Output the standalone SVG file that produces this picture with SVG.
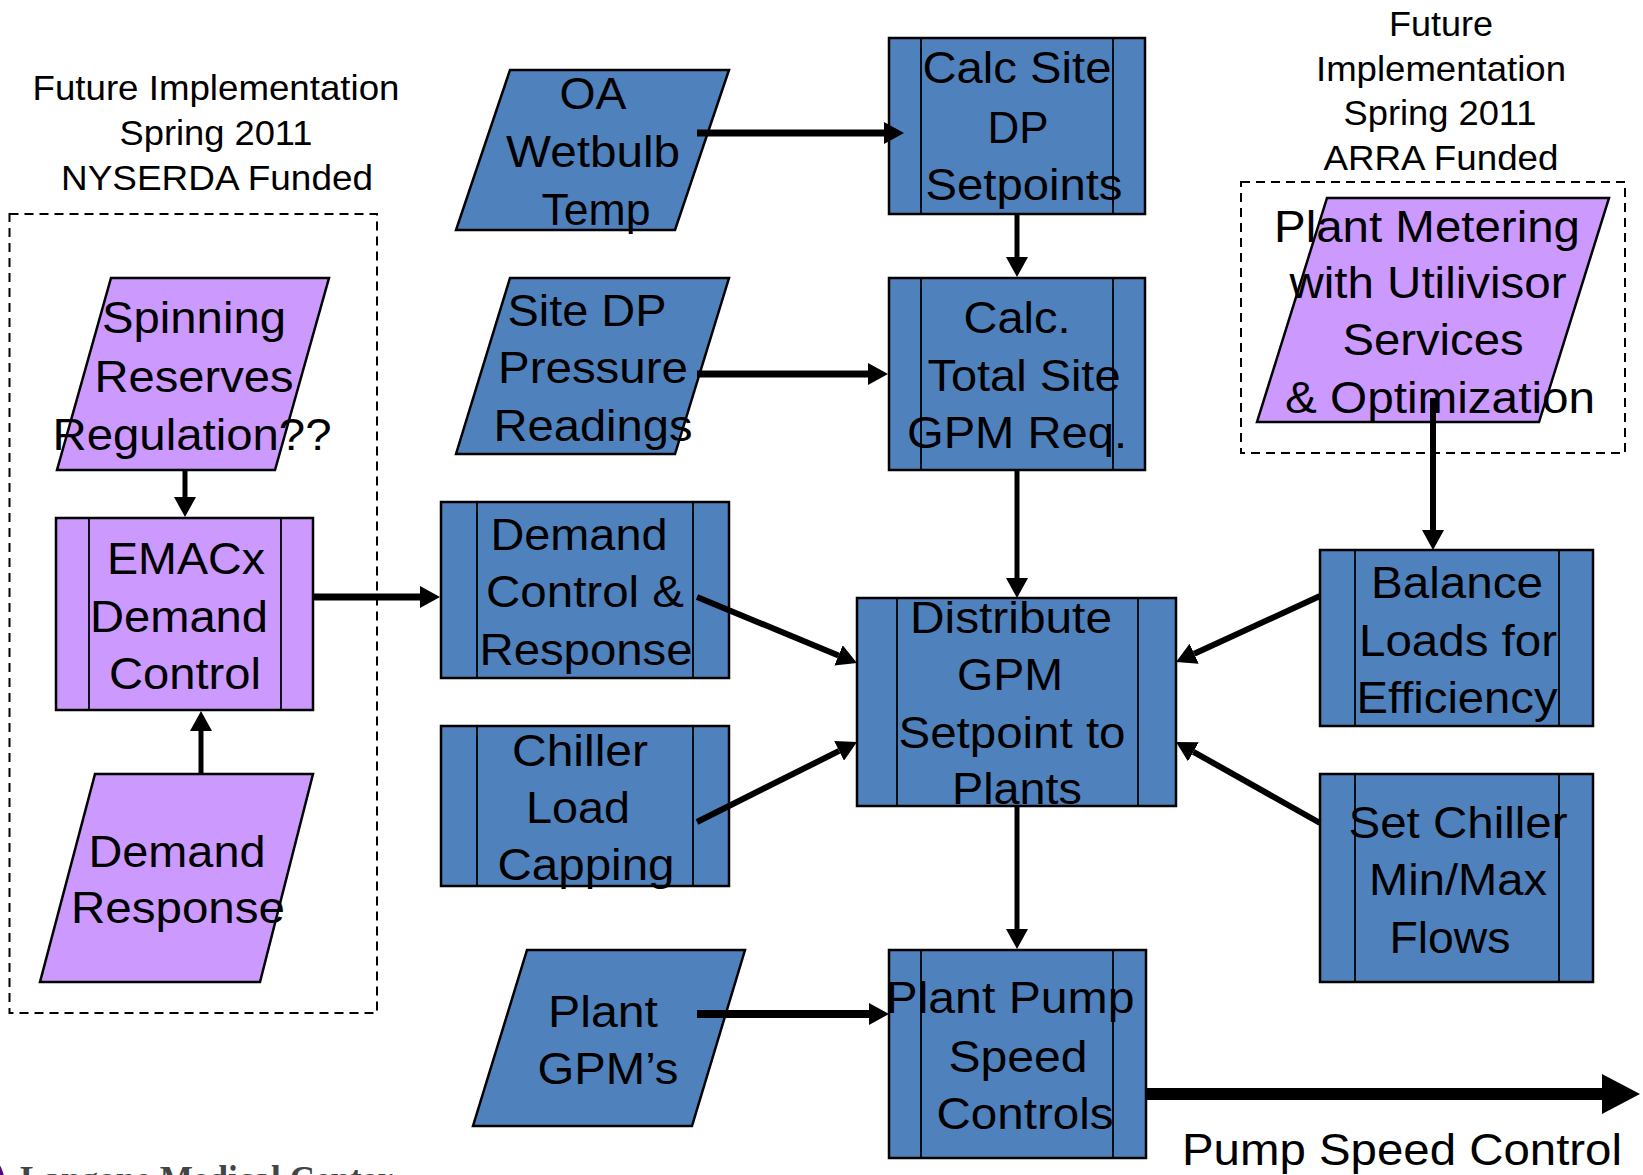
<svg xmlns="http://www.w3.org/2000/svg" width="1643" height="1175" viewBox="0 0 1643 1175">
  <style>
    .blue { fill: #4F81BD; stroke: #000; stroke-width: 2.5; }
    .purple { fill: #CC99FF; stroke: #000; stroke-width: 2.5; }
    .bar { stroke: #000; stroke-width: 1.8; fill: none; }
    .t { font-family: "Liberation Sans", Arial, sans-serif; font-size: 44px; text-anchor: middle; fill: #000; }
    .hdr { font-family: "Liberation Sans", Arial, sans-serif; font-size: 35px; text-anchor: middle; fill: #000; }
    .group { fill: none; stroke: #000; stroke-width: 2; stroke-dasharray: 9 6; }
    .conn { stroke: #000; fill: none; }
    .w5 { stroke-width: 5; }
    .w6 { stroke-width: 6; }
    .w7 { stroke-width: 7; }
  </style>
  <defs>
    <marker id="ah" viewBox="0 0 20 22" refX="0" refY="11" markerWidth="20" markerHeight="22" markerUnits="userSpaceOnUse" orient="auto">
      <path d="M0,0 L20,11 L0,22 Z" fill="#000"/>
    </marker>
    <marker id="ahBig" viewBox="0 0 38 40" refX="0" refY="20" markerWidth="38" markerHeight="40" markerUnits="userSpaceOnUse" orient="auto">
      <path d="M0,0 L38,20 L0,40 Z" fill="#000"/>
    </marker>
  </defs>
  <rect width="1643" height="1175" fill="#fff"/>

  <!-- Group headings and dashed group outlines -->
  <g id="group-nyserda">
    <text class="hdr" x="216" y="100" textLength="367" lengthAdjust="spacingAndGlyphs">Future Implementation</text>
    <text class="hdr" x="216" y="145" textLength="193" lengthAdjust="spacingAndGlyphs">Spring 2011</text>
    <text class="hdr" x="217" y="190" textLength="312" lengthAdjust="spacingAndGlyphs">NYSERDA Funded</text>
    <rect class="group" x="9.5" y="214" width="367.5" height="799"/>
  </g>
  <g id="group-arra">
    <text class="hdr" x="1441" y="36" textLength="104" lengthAdjust="spacingAndGlyphs">Future</text>
    <text class="hdr" x="1441" y="81" textLength="250" lengthAdjust="spacingAndGlyphs">Implementation</text>
    <text class="hdr" x="1440" y="125" textLength="193" lengthAdjust="spacingAndGlyphs">Spring 2011</text>
    <text class="hdr" x="1441" y="170" textLength="235" lengthAdjust="spacingAndGlyphs">ARRA Funded</text>
    <rect class="group" x="1241" y="182" width="384" height="271"/>
  </g>

  <!-- Input parallelograms -->
  <g id="oa-wetbulb">
    <polygon class="blue" points="510,70 729,70 675,230 456,230"/>
    <text class="t" font-size="48" x="593" y="109" textLength="67" lengthAdjust="spacingAndGlyphs">OA</text>
    <text class="t" font-size="48" x="593" y="167" textLength="174" lengthAdjust="spacingAndGlyphs">Wetbulb</text>
    <text class="t" font-size="48" x="596" y="225" textLength="109" lengthAdjust="spacingAndGlyphs">Temp</text>
  </g>
  <g id="site-dp">
    <polygon class="blue" points="510,278 729,278 675,454 456,454"/>
    <text class="t" x="587" y="326" textLength="159" lengthAdjust="spacingAndGlyphs">Site DP</text>
    <text class="t" x="593" y="383" textLength="190" lengthAdjust="spacingAndGlyphs">Pressure</text>
    <text class="t" x="593" y="441" textLength="199" lengthAdjust="spacingAndGlyphs">Readings</text>
  </g>
  <g id="plant-gpms">
    <polygon class="blue" points="527,950 745,950 692,1126 473,1126"/>
    <text class="t" x="603" y="1027" textLength="110" lengthAdjust="spacingAndGlyphs">Plant</text>
    <text class="t" x="608" y="1084" textLength="141" lengthAdjust="spacingAndGlyphs">GPM’s</text>
  </g>
  <g id="spinning-reserves">
    <polygon class="purple" points="111,278 329,278 275,470 57,470"/>
    <text class="t" font-size="46" x="194" y="333" textLength="184" lengthAdjust="spacingAndGlyphs">Spinning</text>
    <text class="t" font-size="46" x="194" y="392" textLength="199" lengthAdjust="spacingAndGlyphs">Reserves</text>
    <text class="t" font-size="46" x="192" y="450" textLength="279" lengthAdjust="spacingAndGlyphs">Regulation??</text>
  </g>
  <g id="demand-response">
    <polygon class="purple" points="95,774 313,774 260,982 40,982"/>
    <text class="t" x="177" y="867" textLength="177" lengthAdjust="spacingAndGlyphs">Demand</text>
    <text class="t" x="178" y="923" textLength="214" lengthAdjust="spacingAndGlyphs">Response</text>
  </g>
  <g id="plant-metering">
    <polygon class="purple" points="1327,198 1609,198 1539,422 1257,422"/>
    <text class="t" font-size="42" x="1427" y="242" textLength="306" lengthAdjust="spacingAndGlyphs">Plant Metering</text>
    <text class="t" font-size="42" x="1428" y="298" textLength="277" lengthAdjust="spacingAndGlyphs">with Utilivisor</text>
    <text class="t" font-size="42" x="1433" y="355" textLength="181" lengthAdjust="spacingAndGlyphs">Services</text>
    <text class="t" font-size="42" x="1440" y="413" textLength="310" lengthAdjust="spacingAndGlyphs">&amp; Optimization</text>
  </g>

  <!-- Process boxes (predefined-process style with side bars) -->
  <g id="emacx">
    <rect class="purple" x="56" y="518" width="257" height="192"/>
    <line class="bar" x1="89" y1="518" x2="89" y2="710"/>
    <line class="bar" x1="281" y1="518" x2="281" y2="710"/>
    <text class="t" x="186" y="574" textLength="158" lengthAdjust="spacingAndGlyphs">EMACx</text>
    <text class="t" x="179" y="632" textLength="178" lengthAdjust="spacingAndGlyphs">Demand</text>
    <text class="t" x="185" y="689" textLength="152" lengthAdjust="spacingAndGlyphs">Control</text>
  </g>
  <g id="demand-control">
    <rect class="blue" x="441" y="502" width="288" height="176"/>
    <line class="bar" x1="477" y1="502" x2="477" y2="678"/>
    <line class="bar" x1="693" y1="502" x2="693" y2="678"/>
    <text class="t" x="579" y="550" textLength="177" lengthAdjust="spacingAndGlyphs">Demand</text>
    <text class="t" x="585" y="607" textLength="198" lengthAdjust="spacingAndGlyphs">Control &amp;</text>
    <text class="t" x="586" y="665" textLength="213" lengthAdjust="spacingAndGlyphs">Response</text>
  </g>
  <g id="chiller-load-capping">
    <rect class="blue" x="441" y="726" width="288" height="160"/>
    <line class="bar" x1="477" y1="726" x2="477" y2="886"/>
    <line class="bar" x1="693" y1="726" x2="693" y2="886"/>
    <text class="t" x="580" y="766" textLength="136" lengthAdjust="spacingAndGlyphs">Chiller</text>
    <text class="t" x="578" y="823" textLength="104" lengthAdjust="spacingAndGlyphs">Load</text>
    <text class="t" x="586" y="880" textLength="177" lengthAdjust="spacingAndGlyphs">Capping</text>
  </g>
  <g id="calc-site-dp">
    <rect class="blue" x="889" y="38" width="256" height="176"/>
    <line class="bar" x1="921" y1="38" x2="921" y2="214"/>
    <line class="bar" x1="1113" y1="38" x2="1113" y2="214"/>
    <text class="t" x="1017" y="83" textLength="189" lengthAdjust="spacingAndGlyphs">Calc Site</text>
    <text class="t" x="1018" y="143" textLength="61" lengthAdjust="spacingAndGlyphs">DP</text>
    <text class="t" x="1024" y="200" textLength="197" lengthAdjust="spacingAndGlyphs">Setpoints</text>
  </g>
  <g id="calc-total-site">
    <rect class="blue" x="889" y="278" width="256" height="192"/>
    <line class="bar" x1="921" y1="278" x2="921" y2="470"/>
    <line class="bar" x1="1113" y1="278" x2="1113" y2="470"/>
    <text class="t" x="1017" y="333" textLength="107" lengthAdjust="spacingAndGlyphs">Calc.</text>
    <text class="t" x="1024" y="391" textLength="193" lengthAdjust="spacingAndGlyphs">Total Site</text>
    <text class="t" x="1017" y="448" textLength="220" lengthAdjust="spacingAndGlyphs">GPM Req.</text>
  </g>
  <g id="distribute-gpm">
    <rect class="blue" x="857" y="598" width="319" height="208"/>
    <line class="bar" x1="897" y1="598" x2="897" y2="806"/>
    <line class="bar" x1="1138" y1="598" x2="1138" y2="806"/>
    <text class="t" x="1011" y="633" textLength="202" lengthAdjust="spacingAndGlyphs">Distribute</text>
    <text class="t" x="1010" y="690" textLength="106" lengthAdjust="spacingAndGlyphs">GPM</text>
    <text class="t" x="1012" y="748" textLength="227" lengthAdjust="spacingAndGlyphs">Setpoint to</text>
    <text class="t" x="1017" y="804" textLength="130" lengthAdjust="spacingAndGlyphs">Plants</text>
  </g>
  <g id="balance-loads">
    <rect class="blue" x="1320" y="550" width="273" height="176"/>
    <line class="bar" x1="1355" y1="550" x2="1355" y2="726"/>
    <line class="bar" x1="1559" y1="550" x2="1559" y2="726"/>
    <text class="t" x="1457" y="598" textLength="172" lengthAdjust="spacingAndGlyphs">Balance</text>
    <text class="t" x="1458" y="656" textLength="198" lengthAdjust="spacingAndGlyphs">Loads for</text>
    <text class="t" x="1457" y="713" textLength="201" lengthAdjust="spacingAndGlyphs">Efficiency</text>
  </g>
  <g id="set-chiller-flows">
    <rect class="blue" x="1320" y="774" width="273" height="208"/>
    <line class="bar" x1="1355" y1="774" x2="1355" y2="982"/>
    <line class="bar" x1="1559" y1="774" x2="1559" y2="982"/>
    <text class="t" x="1458" y="838" textLength="219" lengthAdjust="spacingAndGlyphs">Set Chiller</text>
    <text class="t" x="1458" y="895" textLength="178" lengthAdjust="spacingAndGlyphs">Min/Max</text>
    <text class="t" x="1450" y="953" textLength="121" lengthAdjust="spacingAndGlyphs">Flows</text>
  </g>
  <g id="plant-pump-speed">
    <rect class="blue" x="889" y="950" width="257" height="208"/>
    <line class="bar" x1="921" y1="950" x2="921" y2="1158"/>
    <line class="bar" x1="1113" y1="950" x2="1113" y2="1158"/>
    <text class="t" x="1010" y="1013" textLength="249" lengthAdjust="spacingAndGlyphs">Plant Pump</text>
    <text class="t" x="1018" y="1072" textLength="139" lengthAdjust="spacingAndGlyphs">Speed</text>
    <text class="t" x="1025" y="1129" textLength="177" lengthAdjust="spacingAndGlyphs">Controls</text>
  </g>

  <!-- Connectors, drawn over the shapes they leave from -->
  <g id="connectors">
    <line class="conn w7" x1="697" y1="133" x2="884" y2="133" marker-end="url(#ah)"/>
    <line class="conn w7" x1="697" y1="374" x2="868" y2="374" marker-end="url(#ah)"/>
    <line class="conn w5" x1="1017" y1="214" x2="1017" y2="257" marker-end="url(#ah)"/>
    <line class="conn w5" x1="1017" y1="470" x2="1017" y2="578" marker-end="url(#ah)"/>
    <line class="conn w5" x1="185" y1="470" x2="185" y2="497" marker-end="url(#ah)"/>
    <line class="conn w7" x1="313" y1="597" x2="420" y2="597" marker-end="url(#ah)"/>
    <line class="conn w5" x1="201" y1="774" x2="201" y2="731" marker-end="url(#ah)"/>
    <line class="conn w6" x1="697" y1="597" x2="838.5" y2="655.4" marker-end="url(#ah)"/>
    <line class="conn w6" x1="697" y1="822" x2="839.1" y2="750.9" marker-end="url(#ah)"/>
    <line class="conn w6" x1="1320" y1="596" x2="1194.2" y2="653.7" marker-end="url(#ah)"/>
    <line class="conn w6" x1="1320" y1="823" x2="1193.4" y2="751.8" marker-end="url(#ah)"/>
    <line class="conn w6" x1="1433" y1="398" x2="1433" y2="530" marker-end="url(#ah)"/>
    <line class="conn w5" x1="1017" y1="806" x2="1017" y2="929" marker-end="url(#ah)"/>
    <line class="conn" stroke-width="8" x1="697" y1="1014" x2="869" y2="1014" marker-end="url(#ah)"/>
    <line class="conn" stroke-width="12" x1="1146" y1="1094" x2="1602" y2="1094" marker-end="url(#ahBig)"/>
  </g>

  <!-- Output label -->
  <g id="pump-speed-output">
    <text class="t" x="1402" y="1165" textLength="440" lengthAdjust="spacingAndGlyphs">Pump Speed Control</text>
  </g>

  <!-- Footer logo, clipped by the page edge -->
  <g id="footer-logo">
    <ellipse cx="-6" cy="1195" rx="12" ry="34" fill="#57068C"/>
    <text x="20" y="1192" font-family="'Liberation Serif', 'Times New Roman', serif" font-size="38" font-weight="bold" fill="#444" textLength="373" lengthAdjust="spacingAndGlyphs">Langone Medical Center</text>
  </g>
</svg>
